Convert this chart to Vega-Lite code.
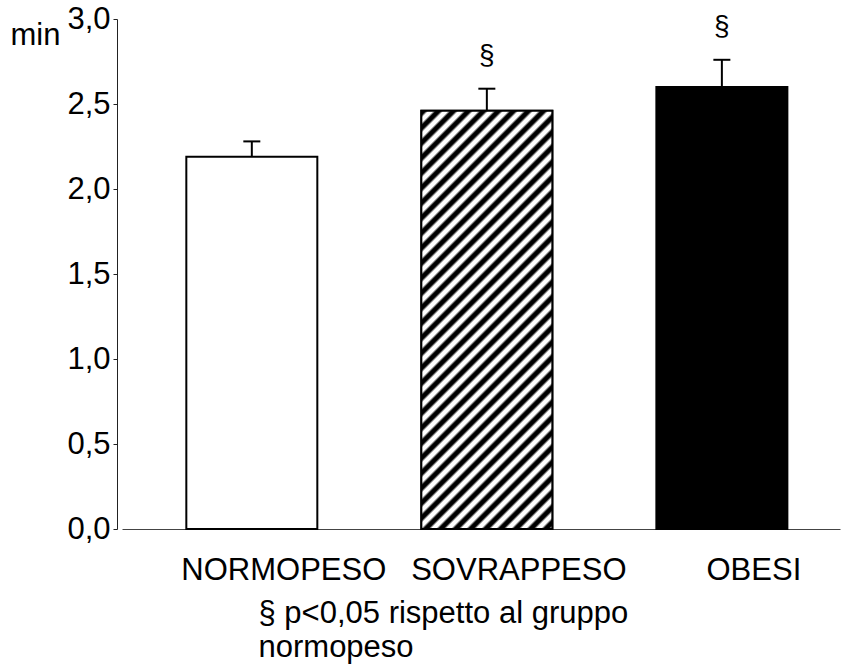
{
  "$schema": "https://vega.github.io/schema/vega-lite/v6.json",
  "width": 718,
  "height": 510,
  "autosize": {"type": "none"},
  "padding": {"left": 122, "top": 19, "right": 1, "bottom": 137},
  "background": "white",
  "config": {"view": {"stroke": null}, "font": "Liberation Sans"},
  "data": {
    "values": [
      {"group": "NORMOPESO", "mean": 2.19, "upper": 2.28, "sig": ""},
      {"group": "SOVRAPPESO", "mean": 2.46, "upper": 2.59, "sig": "§"},
      {"group": "OBESI", "mean": 2.6, "upper": 2.76, "sig": "§"}
    ]
  },
  "encoding": {
    "x": {
      "field": "group",
      "type": "nominal",
      "sort": null,
      "scale": {"domain": ["NORMOPESO", "SOVRAPPESO", "OBESI"], "paddingInner": 0.4426, "paddingOuter": 0.2488, "align": 0.55},
      "axis": {
        "title": ["§ p<0,05 rispetto al gruppo", "normopeso"],
        "titleX": 136,
        "titleY": 93,
        "titleAlign": "left",
        "titleBaseline": "alphabetic",
        "titleFontSize": 31,
        "titleFontWeight": "normal",
        "titleLineHeight": 34,
        "titleColor": "#000",
        "titleFont": "Liberation Sans",
        "titleLimit": 0,
        "labelAngle": 0,
        "labelFontSize": 31,
        "labelFont": "Liberation Sans",
        "labelColor": "#000",
        "labelBaseline": "alphabetic",
        "labelPadding": 50,
        "labelOffset": 32,
        "labelOverlap": false,
        "labelLimit": 0,
        "ticks": false,
        "tickSize": 0,
        "domainColor": "#444",
        "domainWidth": 1
      }
    }
  },
  "layer": [
    {
      "mark": {"type": "bar", "stroke": "#000", "strokeWidth": 2},
      "encoding": {
        "y": {
          "field": "mean",
          "type": "quantitative",
          "scale": {"domain": [0, 3], "nice": false, "zero": true},
          "axis": {
            "values": [0, 0.5, 1, 1.5, 2, 2.5, 3],
            "labelExpr": "replace(format(datum.value, '.1f'), '.', ',')",
            "title": "min",
            "titleAngle": 0,
            "titleAlign": "right",
            "titleBaseline": "alphabetic",
            "titleX": -57,
            "titleY": 25,
            "titleFontSize": 31,
            "titleFontWeight": "normal",
            "titleColor": "#000",
            "titleFont": "Liberation Sans",
            "labelFontSize": 31,
            "labelFont": "Liberation Sans",
            "labelColor": "#000",
            "labelPadding": 3,
            "labelLimit": 0,
            "tickSize": 4,
            "tickColor": "#222",
            "domainColor": "#222",
            "offset": 5,
            "grid": false
          }
        },
        "fill": {"condition": {"test": "datum.group === 'OBESI'", "value": "#000"}, "value": "#fff"}
      }
    },
    {
      "transform": [{"filter": "datum.group === 'SOVRAPPESO'"}],
      "mark": {
        "type": "bar",
        "stroke": "#000",
        "strokeWidth": 2,
        "fill": {
          "gradient": "linear",
          "x1": 0, "y1": 0, "x2": 0.4095, "y2": 1.307,
          "stops": [
            {"offset": 0, "color": "#000"}, {"offset": 0.0075, "color": "#000"}, {"offset": 0.0125, "color": "#fff"}, {"offset": 0.02, "color": "#fff"},
            {"offset": 0.025, "color": "#000"}, {"offset": 0.0325, "color": "#000"}, {"offset": 0.0375, "color": "#fff"}, {"offset": 0.045, "color": "#fff"},
            {"offset": 0.05, "color": "#000"}, {"offset": 0.0575, "color": "#000"}, {"offset": 0.0625, "color": "#fff"}, {"offset": 0.07, "color": "#fff"},
            {"offset": 0.075, "color": "#000"}, {"offset": 0.0825, "color": "#000"}, {"offset": 0.0875, "color": "#fff"}, {"offset": 0.095, "color": "#fff"},
            {"offset": 0.1, "color": "#000"}, {"offset": 0.1075, "color": "#000"}, {"offset": 0.1125, "color": "#fff"}, {"offset": 0.12, "color": "#fff"},
            {"offset": 0.125, "color": "#000"}, {"offset": 0.1325, "color": "#000"}, {"offset": 0.1375, "color": "#fff"}, {"offset": 0.145, "color": "#fff"},
            {"offset": 0.15, "color": "#000"}, {"offset": 0.1575, "color": "#000"}, {"offset": 0.1625, "color": "#fff"}, {"offset": 0.17, "color": "#fff"},
            {"offset": 0.175, "color": "#000"}, {"offset": 0.1825, "color": "#000"}, {"offset": 0.1875, "color": "#fff"}, {"offset": 0.195, "color": "#fff"},
            {"offset": 0.2, "color": "#000"}, {"offset": 0.2075, "color": "#000"}, {"offset": 0.2125, "color": "#fff"}, {"offset": 0.22, "color": "#fff"},
            {"offset": 0.225, "color": "#000"}, {"offset": 0.2325, "color": "#000"}, {"offset": 0.2375, "color": "#fff"}, {"offset": 0.245, "color": "#fff"},
            {"offset": 0.25, "color": "#000"}, {"offset": 0.2575, "color": "#000"}, {"offset": 0.2625, "color": "#fff"}, {"offset": 0.27, "color": "#fff"},
            {"offset": 0.275, "color": "#000"}, {"offset": 0.2825, "color": "#000"}, {"offset": 0.2875, "color": "#fff"}, {"offset": 0.295, "color": "#fff"},
            {"offset": 0.3, "color": "#000"}, {"offset": 0.3075, "color": "#000"}, {"offset": 0.3125, "color": "#fff"}, {"offset": 0.32, "color": "#fff"},
            {"offset": 0.325, "color": "#000"}, {"offset": 0.3325, "color": "#000"}, {"offset": 0.3375, "color": "#fff"}, {"offset": 0.345, "color": "#fff"},
            {"offset": 0.35, "color": "#000"}, {"offset": 0.3575, "color": "#000"}, {"offset": 0.3625, "color": "#fff"}, {"offset": 0.37, "color": "#fff"},
            {"offset": 0.375, "color": "#000"}, {"offset": 0.3825, "color": "#000"}, {"offset": 0.3875, "color": "#fff"}, {"offset": 0.395, "color": "#fff"},
            {"offset": 0.4, "color": "#000"}, {"offset": 0.4075, "color": "#000"}, {"offset": 0.4125, "color": "#fff"}, {"offset": 0.42, "color": "#fff"},
            {"offset": 0.425, "color": "#000"}, {"offset": 0.4325, "color": "#000"}, {"offset": 0.4375, "color": "#fff"}, {"offset": 0.445, "color": "#fff"},
            {"offset": 0.45, "color": "#000"}, {"offset": 0.4575, "color": "#000"}, {"offset": 0.4625, "color": "#fff"}, {"offset": 0.47, "color": "#fff"},
            {"offset": 0.475, "color": "#000"}, {"offset": 0.4825, "color": "#000"}, {"offset": 0.4875, "color": "#fff"}, {"offset": 0.495, "color": "#fff"},
            {"offset": 0.5, "color": "#000"}, {"offset": 0.5075, "color": "#000"}, {"offset": 0.5125, "color": "#fff"}, {"offset": 0.52, "color": "#fff"},
            {"offset": 0.525, "color": "#000"}, {"offset": 0.5325, "color": "#000"}, {"offset": 0.5375, "color": "#fff"}, {"offset": 0.545, "color": "#fff"},
            {"offset": 0.55, "color": "#000"}, {"offset": 0.5575, "color": "#000"}, {"offset": 0.5625, "color": "#fff"}, {"offset": 0.57, "color": "#fff"},
            {"offset": 0.575, "color": "#000"}, {"offset": 0.5825, "color": "#000"}, {"offset": 0.5875, "color": "#fff"}, {"offset": 0.595, "color": "#fff"},
            {"offset": 0.6, "color": "#000"}, {"offset": 0.6075, "color": "#000"}, {"offset": 0.6125, "color": "#fff"}, {"offset": 0.62, "color": "#fff"},
            {"offset": 0.625, "color": "#000"}, {"offset": 0.6325, "color": "#000"}, {"offset": 0.6375, "color": "#fff"}, {"offset": 0.645, "color": "#fff"},
            {"offset": 0.65, "color": "#000"}, {"offset": 0.6575, "color": "#000"}, {"offset": 0.6625, "color": "#fff"}, {"offset": 0.67, "color": "#fff"},
            {"offset": 0.675, "color": "#000"}, {"offset": 0.6825, "color": "#000"}, {"offset": 0.6875, "color": "#fff"}, {"offset": 0.695, "color": "#fff"},
            {"offset": 0.7, "color": "#000"}, {"offset": 0.7075, "color": "#000"}, {"offset": 0.7125, "color": "#fff"}, {"offset": 0.72, "color": "#fff"},
            {"offset": 0.725, "color": "#000"}, {"offset": 0.7325, "color": "#000"}, {"offset": 0.7375, "color": "#fff"}, {"offset": 0.745, "color": "#fff"},
            {"offset": 0.75, "color": "#000"}, {"offset": 0.7575, "color": "#000"}, {"offset": 0.7625, "color": "#fff"}, {"offset": 0.77, "color": "#fff"},
            {"offset": 0.775, "color": "#000"}, {"offset": 0.7825, "color": "#000"}, {"offset": 0.7875, "color": "#fff"}, {"offset": 0.795, "color": "#fff"},
            {"offset": 0.8, "color": "#000"}, {"offset": 0.8075, "color": "#000"}, {"offset": 0.8125, "color": "#fff"}, {"offset": 0.82, "color": "#fff"},
            {"offset": 0.825, "color": "#000"}, {"offset": 0.8325, "color": "#000"}, {"offset": 0.8375, "color": "#fff"}, {"offset": 0.845, "color": "#fff"},
            {"offset": 0.85, "color": "#000"}, {"offset": 0.8575, "color": "#000"}, {"offset": 0.8625, "color": "#fff"}, {"offset": 0.87, "color": "#fff"},
            {"offset": 0.875, "color": "#000"}, {"offset": 0.8825, "color": "#000"}, {"offset": 0.8875, "color": "#fff"}, {"offset": 0.895, "color": "#fff"},
            {"offset": 0.9, "color": "#000"}, {"offset": 0.9075, "color": "#000"}, {"offset": 0.9125, "color": "#fff"}, {"offset": 0.92, "color": "#fff"},
            {"offset": 0.925, "color": "#000"}, {"offset": 0.9325, "color": "#000"}, {"offset": 0.9375, "color": "#fff"}, {"offset": 0.945, "color": "#fff"}
          ]
        }
      },
      "encoding": {
        "y": {"field": "mean", "type": "quantitative"}
      }
    },
    {
      "mark": {"type": "rule", "strokeWidth": 2, "color": "#000"},
      "encoding": {
        "y": {"field": "mean", "type": "quantitative"},
        "y2": {"field": "upper"}
      }
    },
    {
      "mark": {"type": "tick", "size": 17, "thickness": 2, "color": "#000", "orient": "horizontal", "opacity": 1},
      "encoding": {
        "y": {"field": "upper", "type": "quantitative"}
      }
    },
    {
      "mark": {"type": "text", "fontSize": 28, "dy": -33, "baseline": "middle", "align": "center", "color": "#000", "font": "Liberation Sans"},
      "encoding": {
        "y": {"field": "upper", "type": "quantitative"},
        "text": {"field": "sig"}
      }
    }
  ]
}
